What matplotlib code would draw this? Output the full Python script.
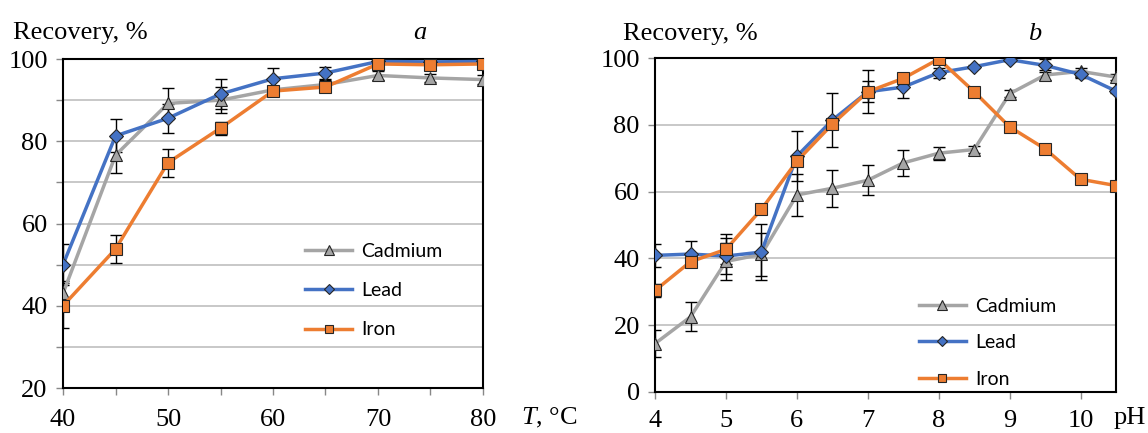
import matplotlib
matplotlib.use("Agg")
import matplotlib.pyplot as plt
import numpy as np

# Panel a: temperature
T = [40, 45, 50, 55, 60, 65, 70, 75, 80]
cd_a = [43, 76.6, 89.2, 90, 92.5, 93.8, 96, 95.4, 95]
pb_a = [50, 81.3, 85.6, 91.5, 95.2, 96.6, 99.4, 99.3, 99.4]
fe_a = [40, 53.8, 74.8, 83.2, 92.2, 93.2, 98.8, 98.6, 98.8]
cd_a_err = [3, 4.4, 3.8, 3.2, 1, 1, 1, 1, 1]
pb_a_err = [5, 4, 3.5, 3.6, 2.5, 1.5, 0.5, 0.5, 0.5]
fe_a_err = [5.5, 3.5, 3.4, 1.6, 0.8, 0.8, 0.8, 0.8, 0.8]

# Panel b: pH
pH = [4, 4.5, 5, 5.5, 6, 6.5, 7, 7.5, 8, 8.5, 9, 9.5, 10, 10.5]
cd_b = [14.5, 22.5, 39.1, 41.2, 59, 61, 63.4, 68.6, 71.5, 72.6, 89.3, 94.9, 96, 94.3]
pb_b = [40.9, 41.3, 40.7, 41.9, 70.6, 81.4, 89.9, 91.3, 95.6, 97.4, 99.5, 97.8, 95.1, 90.1]
fe_b = [30.4, 39, 42.7, 54.7, 69.1, 80.2, 89.9, 93.9, 99.7, 89.9, 79.4, 72.8, 63.7, 61.8]
cd_b_err = [4, 4.3, 5.5, 6.5, 6.4, 5.5, 4.5, 4, 2, 1, 1, 1.5, 1, 1]
pb_b_err = [3.5, 4, 5.5, 8.5, 7.5, 8, 6.4, 3.3, 1.5, 0.5, 0.5, 2, 1, 0.5]
fe_b_err = [2, 1.5, 4.5, 1, 1, 1, 3.2, 1, 1, 0.5, 0.5, 0.5, 1, 1.5]

GRAY = "#A5A5A5"
BLUE = "#4472C4"
ORANGE = "#ED7D31"
GRID = "#BFBFBF"
SERIF = "Liberation Serif"
SANS = "Lato"

plt.rcParams["font.family"] = [SERIF, "DejaVu Serif"]
plt.rcParams["mathtext.fontset"] = "custom"
plt.rcParams["mathtext.rm"] = SERIF
plt.rcParams["mathtext.it"] = SERIF + ":italic"

fig = plt.figure(figsize=(11.48, 4.33), dpi=100)
ax_a = fig.add_axes([0.0549, 0.1039, 0.3658, 0.7598])
ax_b = fig.add_axes([0.5706, 0.0947, 0.4015, 0.7713])

def draw(ax, x, series):
    for y, err, color, marker, ms, label in series:
        ax.errorbar(x, y, yerr=err, fmt="none", ecolor="black", elinewidth=1,
                    capsize=4, capthick=1, zorder=3)
    for y, err, color, marker, ms, label in series:
        ax.plot(x, y, color=color, lw=2.5, marker=marker, ms=ms,
                markerfacecolor=color, markeredgecolor="#262626",
                markeredgewidth=0.8, label=label, zorder=4)

def style(ax, xpad):
    ax.grid(axis="y", color=GRID, lw=1.2, zorder=0)
    ax.set_axisbelow(True)
    for s in ax.spines.values():
        s.set_color("black")
        s.set_linewidth(1.5)
    ax.tick_params(axis="both", colors="#888888", length=5, width=1,
                   labelcolor="black", labelsize=19, direction="out")
    ax.tick_params(axis="x", pad=xpad)
    ax.tick_params(axis="y", pad=6)

# Panel a
series_a = [
    (cd_a, cd_a_err, GRAY, "^", 9, "Cadmium"),
    (pb_a, pb_a_err, BLUE, "D", 7, "Lead"),
    (fe_a, fe_a_err, ORANGE, "s", 8.5, "Iron"),
]
draw(ax_a, T, series_a)
ax_a.set_xlim(40, 80)
ax_a.set_ylim(20, 100)
ax_a.set_xticks(np.arange(40, 81, 5))
ax_a.set_xticklabels([str(v) if v % 10 == 0 else "" for v in range(40, 81, 5)])
ax_a.set_yticks(np.arange(20, 101, 10))
ax_a.set_yticklabels([str(v) if v % 20 == 0 else "" for v in range(20, 101, 10)])
style(ax_a, 10)
ax_a.legend(loc="upper left", bbox_to_anchor=(0.535, 0.495), frameon=False,
            prop={"family": SANS, "size": 14}, handlelength=2.4,
            handletextpad=0.5, labelspacing=1.15, markerscale=0.75)
ax_a.text(-0.12, 1.045, "Recovery, %", transform=ax_a.transAxes, fontsize=19,
          ha="left", va="bottom")
ax_a.text(0.85, 1.045, "a", transform=ax_a.transAxes, fontsize=19,
          style="italic", ha="center", va="bottom")
ax_a.text(1.09, -0.055, "$T$, °C", transform=ax_a.transAxes, fontsize=19,
          ha="left", va="top")

# Panel b
series_b = [
    (cd_b, cd_b_err, GRAY, "^", 9, "Cadmium"),
    (pb_b, pb_b_err, BLUE, "D", 7, "Lead"),
    (fe_b, fe_b_err, ORANGE, "s", 8.5, "Iron"),
]
draw(ax_b, pH, series_b)
ax_b.set_xlim(4, 10.5)
ax_b.set_ylim(0, 100)
ax_b.set_xticks(np.arange(4, 11, 1))
ax_b.set_yticks(np.arange(0, 101, 20))
style(ax_b, 8)
ax_b.legend(loc="upper left", bbox_to_anchor=(0.535, 0.335), frameon=False,
            prop={"family": SANS, "size": 14}, handlelength=2.4,
            handletextpad=0.5, labelspacing=1.0, markerscale=0.75)
ax_b.text(-0.07, 1.04, "Recovery, %", transform=ax_b.transAxes, fontsize=19,
          ha="left", va="bottom")
ax_b.text(0.824, 1.04, "b", transform=ax_b.transAxes, fontsize=19,
          style="italic", ha="center", va="bottom")
fig.text(0.9985, 0.035, "pH", fontsize=19, ha="right", va="center")

fig.savefig("out.png", dpi=100)
